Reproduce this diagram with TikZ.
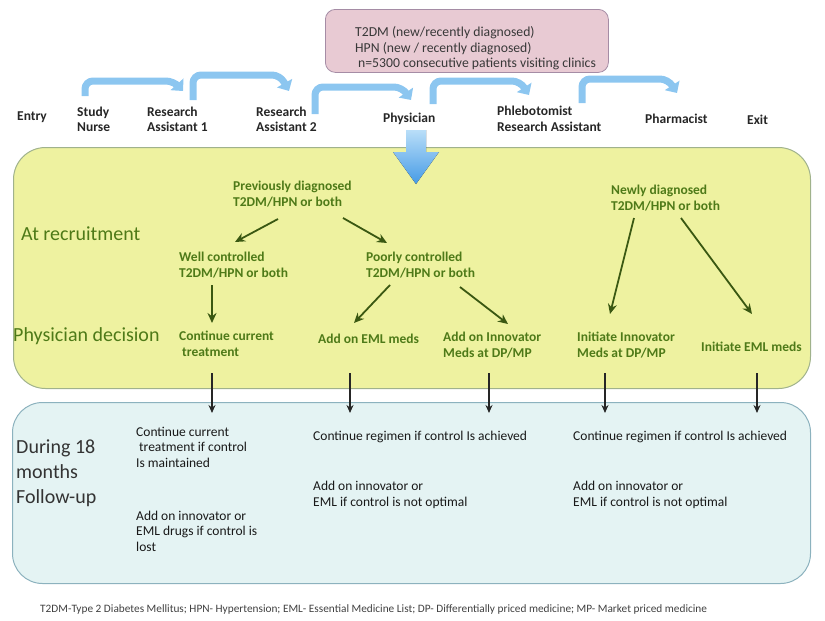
\documentclass[tikz,border=0pt]{standalone}
\usepackage{fontspec}
\setmainfont{Carlito}
\usetikzlibrary{arrows.meta}
\definecolor{ygfill}{RGB}{238,242,160}
\definecolor{ygdraw}{RGB}{160,178,140}
\definecolor{lbfill}{RGB}{228,243,243}
\definecolor{lbdraw}{RGB}{140,178,190}
\definecolor{pkfill}{RGB}{232,202,211}
\definecolor{pkdraw}{RGB}{165,140,165}
\definecolor{gtxt}{RGB}{78,122,24}
\definecolor{garr}{RGB}{58,88,18}
\definecolor{hookc}{RGB}{140,198,240}
\definecolor{bigtop}{RGB}{185,222,248}
\definecolor{bigbot}{RGB}{70,155,230}
\begin{document}
\begin{tikzpicture}[x=1pt,y=-1pt,
  lbl/.style={inner sep=0pt, anchor=west, align=left},
  stage/.style={lbl, font=\fontsize{13.5}{15.5}\selectfont\bfseries, text=black!85},
  gtext/.style={lbl, font=\fontsize{13.5}{16}\selectfont\bfseries, text=gtxt},
  rowlbl/.style={lbl, font=\fontsize{20}{25}\selectfont, text=gtxt},
  fulbl/.style={lbl, font=\fontsize{20}{25}\selectfont, text=black!80},
  futext/.style={lbl, font=\fontsize{13.5}{15.5}\selectfont, text=black!90},
  garrow/.style={draw=garr, line width=1.8pt, -{Stealth[length=10pt,width=9pt]}},
  barrow/.style={draw=black!85, line width=1.5pt, -{Stealth[length=8pt,width=7pt]}},
  hook/.style={draw=hookc, line width=7pt, rounded corners=8pt, -{Triangle[length=9pt,width=17pt]}},
  panel/.style={anchor=north west, line width=1pt},
]
\useasboundingbox (0,0) rectangle (825,621);

% panels
\node[panel, draw=ygdraw, fill=ygfill, rounded corners=32pt, minimum width=797pt, minimum height=241pt] (recbox) at (13,147) {};
\node[panel, draw=lbdraw, fill=lbfill, rounded corners=30pt, minimum width=798pt, minimum height=181pt] (fubox) at (12,402) {};

% population box
\node[panel, draw=pkdraw, fill=pkfill, rounded corners=10pt, line width=0.8pt, minimum width=283pt, minimum height=63pt] (pop) at (325,9) {};
\node[lbl, font=\fontsize{13.7}{15.5}\selectfont, text=black!78] (poptxt) at (355,48.5)
  {T2DM (new/recently diagnosed)\\HPN (new / recently diagnosed)\\\hspace{3pt}n=5300 consecutive patients visiting clinics};

% stages
\node[stage] (entry) at (17,117) {Entry};
\node[stage] (nurse) at (77,119.5) {Study\\Nurse};
\node[stage] (ra1) at (147,119.5) {Research\\Assistant 1};
\node[stage] (ra2) at (256,119.5) {Research\\Assistant 2};
\node[stage] (phys) at (383,119) {Physician};
\node[stage] (phleb) at (497,119) {Phlebotomist\\Research Assistant};
\node[stage] (pharm) at (645,119) {Pharmacist};
\node[stage] (exit) at (747,120) {Exit};

% hook arrows
\coordinate (h1s) at (85,96);  \coordinate (h1e) at (183,91);
\coordinate (h2s) at (193,100); \coordinate (h2e) at (289,91);
\coordinate (h3s) at (315,114); \coordinate (h3e) at (411,100);
\coordinate (h4s) at (433,104); \coordinate (h4e) at (529,95);
\coordinate (h5s) at (582,103); \coordinate (h5e) at (677,93);
\draw[hook] (h1s) -- (85,81) -- (174,81) -- (h1e);
\draw[hook] (h2s) -- (193,75) -- (280,75) -- (h2e);
\draw[hook] (h3s) -- (315,87) -- (402,87) -- (h3e);
\draw[hook] (h4s) -- (433,81) -- (520,81) -- (h4e);
\draw[hook] (h5s) -- (582,79) -- (668,79) -- (h5e);

% big arrow into recruitment panel
\fill[top color=bigtop, bottom color=bigbot]
  (406,130) -- (426,130) -- (426,152) -- (439,152) -- (416,184) -- (393,152) -- (406,152) -- cycle;

% row labels
\node[rowlbl] (atrec) at (21,234) {At recruitment};
\node[rowlbl] (physdec) at (13,336) {Physician decision};
\node[fulbl] (during) at (16,473) {During 18\\months\\Follow-up};

% recruitment texts
\node[gtext] (prev) at (233,194) {Previously diagnosed\\T2DM/HPN or both};
\node[gtext] (well) at (179,265) {Well controlled\\T2DM/HPN or both};
\node[gtext] (poor) at (366,265) {Poorly controlled\\T2DM/HPN or both};
\node[gtext] (newly) at (611,198) {Newly diagnosed\\T2DM/HPN or both};
\node[gtext] (cont) at (179,344) {Continue current\\\hspace{3pt}treatment};
\node[gtext] (addeml) at (318,339) {Add on EML meds};
\node[gtext] (addinn) at (443,345) {Add on Innovator\\Meds at DP/MP};
\node[gtext] (initinn) at (577,345) {Initiate Innovator\\Meds at DP/MP};
\node[gtext] (initeml) at (701,347) {Initiate EML meds};

% green arrows
\coordinate (g1s) at (278,219); \coordinate (g1e) at (235,242);
\coordinate (g2s) at (343,218); \coordinate (g2e) at (387,243);
\coordinate (g3s) at (212,285); \coordinate (g3e) at (212,323);
\coordinate (g4s) at (390,285); \coordinate (g4e) at (354,323);
\coordinate (g5s) at (460,287); \coordinate (g5e) at (508,324);
\coordinate (g6s) at (634,218); \coordinate (g6e) at (610,314);
\coordinate (g7s) at (681,218); \coordinate (g7e) at (752,314);
\draw[garrow] (g1s) -- (g1e);
\draw[garrow] (g2s) -- (g2e);
\draw[garrow] (g3s) -- (g3e);
\draw[garrow] (g4s) -- (g4e);
\draw[garrow] (g5s) -- (g5e);
\draw[garrow] (g6s) -- (g6e);
\draw[garrow] (g7s) -- (g7e);

% black arrows
\foreach \i/\x in {1/212,2/350,3/489,4/605,5/757}{
  \coordinate (b\i s) at (\x,373); \coordinate (b\i e) at (\x,413);
}
\foreach \i in {1,...,5}{ \draw[barrow] (b\i s) -- (b\i e); }

% follow-up texts
\node[futext] (fu1) at (136,447) {Continue current\\\hspace{3pt}treatment if control\\Is maintained};
\node[futext] (fu2) at (136,531) {Add on innovator or\\EML drugs if control is\\lost};
\node[futext] (fu3) at (313,437) {Continue regimen if control Is achieved};
\node[futext] (fu4) at (313,495) {Add on innovator or\\EML if control is not optimal};
\node[futext] (fu5) at (573,437) {Continue regimen if control Is achieved};
\node[futext] (fu6) at (573,495) {Add on innovator or\\EML if control is not optimal};

% footer
\node[lbl, font=\fontsize{11.3}{13}\selectfont, text=black!75] (foot) at (40,609)
  {T2DM-Type 2 Diabetes Mellitus; HPN- Hypertension; EML- Essential Medicine List; DP- Differentially priced medicine; MP- Market priced medicine};
\end{tikzpicture}
\end{document}
